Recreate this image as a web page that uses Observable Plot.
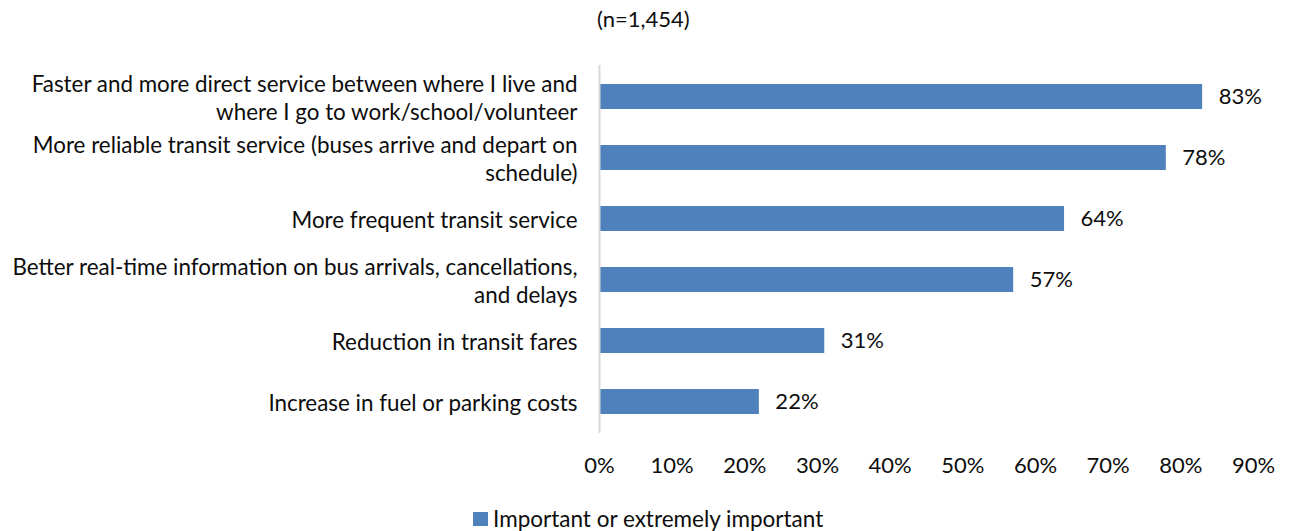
<!DOCTYPE html>
<html>
<head>
<meta charset="utf-8">
<script src="https://cdn.jsdelivr.net/npm/d3@7"></script>
<script src="https://cdn.jsdelivr.net/npm/@observablehq/plot@0.6"></script>
<style>
  html, body { margin: 0; padding: 0; background: #fff; }
  body { width: 1290px; height: 531px; overflow: hidden; font-family: Lato, "Open Sans", sans-serif; color: #0d0d0d; position: relative; }
  #title { height: 40px; line-height: 38px; font-size: 22px; text-align: left; padding-left: 597px; box-sizing: border-box; }
  #legend { position: absolute; top: 506px; left: 473px; font-size: 22.5px; line-height: 26px; display: flex; align-items: center; }
  #legend .sw { width: 15px; height: 14px; background: #4F81BD; margin-right: 5px; }
</style>
</head>
<body>
<div id="title">(n=1,454)</div>
<div id="chart"></div>
<div id="legend"><span class="sw"></span><span>Important or extremely important</span></div>
<script>
const categories = [
  "Faster and more direct service between where I live and\nwhere I go to work/school/volunteer",
  "More reliable transit service (buses arrive and depart on\nschedule)",
  "More frequent transit service",
  "Better real-time information on bus arrivals, cancellations,\nand delays",
  "Reduction in transit fares",
  "Increase in fuel or parking costs"
];
const values = [0.83, 0.78, 0.64, 0.57, 0.31, 0.22];
const xTicks = [0, 0.1, 0.2, 0.3, 0.4, 0.5, 0.6, 0.7, 0.8, 0.9];
const seriesName = "Important or extremely important";

const data = categories.map((c, i) => ({category: c, value: values[i]}));

const chart = Plot.plot({
  width: 1290,
  height: 455,
  marginLeft: 599,
  marginRight: 37,
  marginTop: 25,
  marginBottom: 62,
  style: {fontFamily: "Lato, 'Open Sans', sans-serif", fontSize: "22px", color: "#0d0d0d", background: "#fff"},
  x: {domain: [0, 0.9]},
  y: {domain: categories, padding: 0},
  marks: [
    Plot.axisX({ticks: xTicks, tickFormat: d3.format(".0%"), tickSize: 0, tickPadding: 24, fontSize: 22, fill: "#0d0d0d", label: null}),
    Plot.axisY({tickSize: 0, tickPadding: 22, fontSize: 22.4, fill: "#0d0d0d", lineHeight: 1.25, label: null}),
    Plot.barX(data, {x: "value", y: "category", fill: "#4F81BD", insetTop: 18, insetBottom: 18}),
    Plot.ruleX([0], {stroke: "#D9D9D9", strokeWidth: 2}),
    Plot.text(data, {x: "value", y: "category", text: d => d3.format(".0%")(d.value), textAnchor: "start", dx: 16, fontSize: 22, fill: "#0d0d0d"})
  ]
});
document.getElementById("chart").appendChild(chart);
</script>
</body>
</html>
